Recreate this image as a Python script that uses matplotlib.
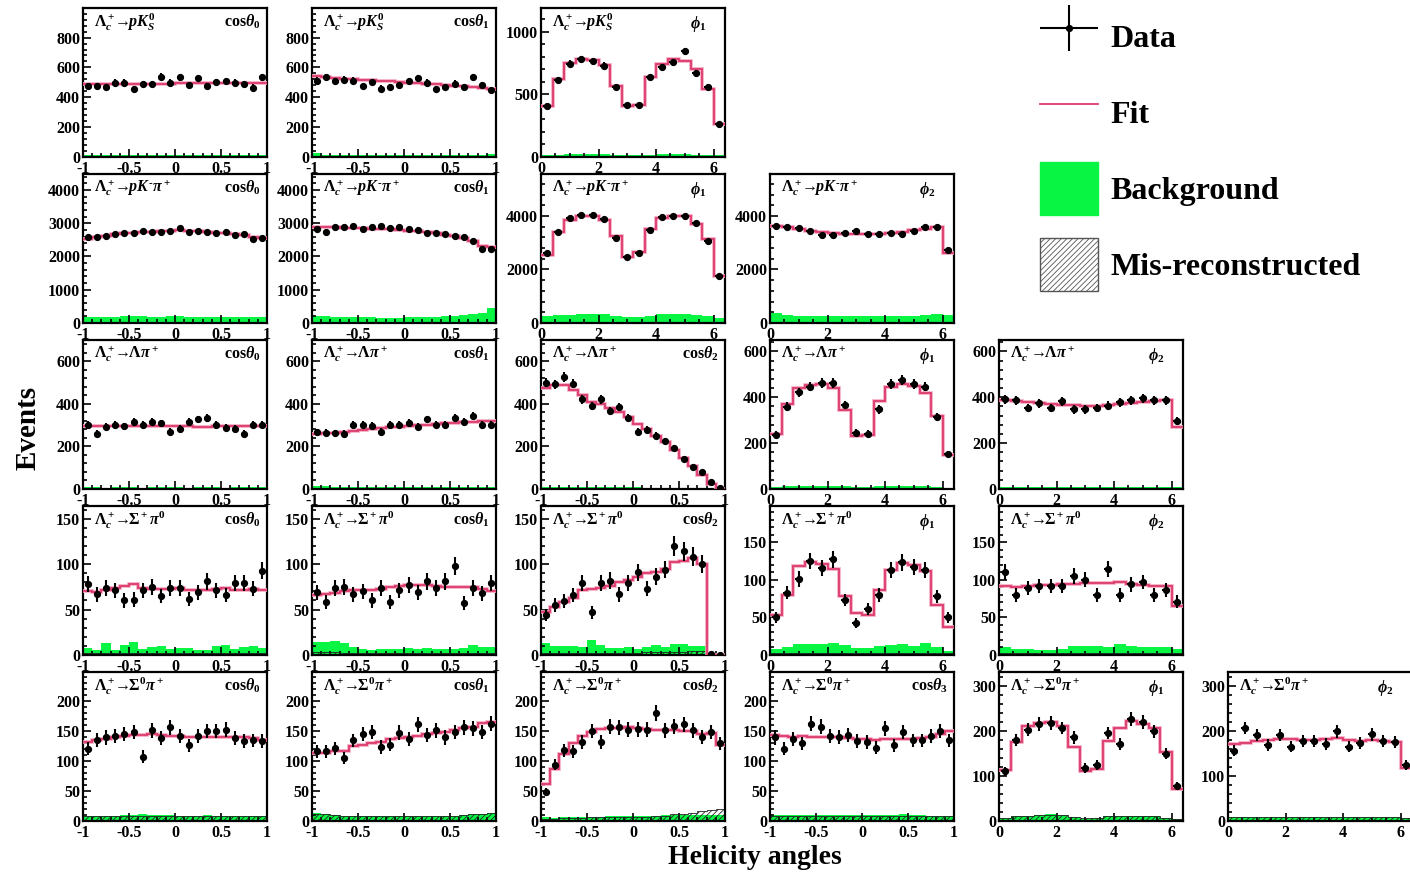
import numpy as np
import matplotlib
matplotlib.use("Agg")
import matplotlib.pyplot as plt
from matplotlib.ticker import MultipleLocator, AutoMinorLocator
from matplotlib.lines import Line2D
from matplotlib.patches import Patch
from matplotlib.container import ErrorbarContainer
from matplotlib.legend_handler import HandlerErrorbar

plt.rcParams['font.family'] = ['Liberation Serif', 'DejaVu Serif']
plt.rcParams['font.weight'] = 'bold'
plt.rcParams['mathtext.fontset'] = 'custom'
plt.rcParams['mathtext.rm'] = 'Liberation Serif:bold'
plt.rcParams['mathtext.it'] = 'Liberation Serif:bold:italic'
plt.rcParams['mathtext.bf'] = 'Liberation Serif:bold'
plt.rcParams['axes.unicode_minus'] = False
plt.rcParams['hatch.linewidth'] = 0.6

# ==== binning ====
cos_edges = np.linspace(-1, 1, 21)
phi_edges = np.linspace(0, 6.4, 17)

# ==== Lc -> p KS ====
pks_c0_data = [476, 476, 469, 499, 499, 453, 488, 488, 537, 499, 533, 483, 528, 476, 503, 506, 499, 488, 465, 533]
pks_c0_fit = [488, 488, 489, 489, 490, 490, 491, 491, 492, 492, 493, 493, 493, 494, 494, 494, 495, 495, 495, 495]
pks_c0_bkg = [12, 13, 12, 13, 13, 12, 12, 13, 12, 12, 12, 13, 12, 12, 13, 12, 12, 13, 12, 12]

pks_c1_data = [510, 533, 506, 517, 510, 476, 503, 458, 469, 483, 506, 528, 499, 453, 469, 492, 469, 533, 483, 449]
pks_c1_fit = [544, 537, 530, 525, 521, 517, 513, 509, 506, 503, 499, 494, 490, 486, 482, 478, 474, 470, 465, 458]
pks_c1_bkg = [28, 15, 13, 13, 12, 12, 12, 12, 12, 12, 12, 12, 12, 12, 12, 13, 13, 14, 15, 18]

pks_p1_data = [409, 613, 744, 782, 766, 730, 561, 414, 417, 640, 717, 755, 845, 668, 559, 264]
pks_p1_fit = [410, 620, 750, 785, 775, 735, 570, 405, 415, 640, 740, 785, 770, 700, 540, 265]
pks_p1_bkg = [14, 17, 20, 22, 22, 20, 17, 14, 14, 17, 20, 22, 20, 18, 15, 12]

# ==== Lc -> p K pi ====
pkpi_c0_data = [2588, 2578, 2608, 2668, 2698, 2698, 2759, 2729, 2729, 2769, 2859, 2739, 2759, 2749, 2698, 2729, 2648, 2688, 2528, 2558]
pkpi_c0_fit = [2530, 2580, 2620, 2680, 2700, 2720, 2740, 2750, 2760, 2780, 2810, 2770, 2760, 2740, 2720, 2700, 2680, 2660, 2590, 2570]
pkpi_c0_bkg = [190, 185, 195, 195, 200, 200, 200, 195, 195, 200, 210, 195, 190, 190, 195, 195, 190, 190, 190, 185]

pkpi_c1_data = [2834, 2734, 2894, 2894, 2915, 2814, 2894, 2915, 2844, 2874, 2814, 2784, 2693, 2693, 2673, 2603, 2573, 2462, 2231, 2211]
pkpi_c1_fit = [2900, 2890, 2880, 2870, 2860, 2850, 2840, 2830, 2820, 2800, 2780, 2760, 2730, 2700, 2660, 2620, 2560, 2470, 2320, 2280]
pkpi_c1_bkg = [220, 200, 190, 180, 175, 170, 170, 165, 165, 165, 170, 175, 180, 190, 200, 220, 240, 260, 290, 460]

pkpi_p1_data = [2625, 3412, 3912, 4037, 4025, 3875, 3187, 2462, 2625, 3462, 3962, 4000, 4000, 3725, 3062, 1775]
pkpi_p1_fit = [2560, 3400, 3840, 4000, 3990, 3840, 3270, 2450, 2650, 3500, 3910, 3990, 3990, 3690, 3150, 1740]
pkpi_p1_bkg = [250, 300, 300, 320, 340, 340, 280, 230, 230, 280, 320, 320, 320, 310, 280, 200]

pkpi_p2_data = [3625, 3600, 3537, 3437, 3275, 3275, 3375, 3437, 3337, 3312, 3350, 3337, 3437, 3587, 3587, 2712]
pkpi_p2_fit = [3620, 3580, 3510, 3450, 3390, 3350, 3320, 3310, 3310, 3330, 3380, 3420, 3460, 3530, 3600, 2600]
pkpi_p2_bkg = [380, 300, 280, 270, 260, 250, 250, 250, 250, 260, 260, 270, 280, 300, 320, 300]

# ==== Lc -> Lambda pi ====
lpi_c0_data = [300, 259, 292, 300, 295, 316, 300, 316, 308, 269, 283, 316, 327, 335, 300, 288, 283, 259, 303, 303]
lpi_c0_fit = [297, 297, 297, 298, 298, 298, 298, 298, 298, 297, 296, 295, 293, 293, 294, 295, 296, 297, 297, 297]
lpi_c0_bkg = [8, 8, 7, 8, 8, 8, 7, 8, 8, 8, 8, 7, 8, 8, 8, 7, 8, 8, 8, 8]

lpi_c1_data = [267, 264, 261, 259, 303, 303, 298, 269, 300, 303, 311, 292, 327, 303, 303, 335, 316, 343, 303, 303]
lpi_c1_fit = [260, 262, 264, 267, 273, 278, 282, 286, 290, 293, 296, 299, 302, 305, 308, 311, 314, 316, 318, 320]
lpi_c1_bkg = [14, 12, 10, 9, 8, 8, 8, 8, 8, 8, 8, 8, 8, 8, 8, 8, 8, 8, 8, 8]

lpi_c2_data = [500, 492, 527, 495, 421, 389, 421, 368, 386, 333, 270, 278, 251, 225, 194, 143, 103, 79, 35, 3]
lpi_c2_fit = [475, 487, 487, 465, 440, 410, 400, 380, 360, 340, 305, 280, 250, 220, 185, 145, 110, 65, 25, 2]
lpi_c2_bkg = [10, 10, 10, 9, 9, 9, 9, 8, 8, 8, 8, 7, 7, 6, 6, 5, 4, 3, 2, 1]

lpi_p1_data = [237, 359, 422, 447, 464, 461, 366, 246, 242, 348, 457, 476, 457, 447, 315, 154]
lpi_p1_fit = [240, 370, 440, 455, 460, 440, 345, 230, 235, 385, 445, 460, 450, 420, 320, 150]
lpi_p1_bkg = [9, 11, 13, 14, 15, 14, 11, 8, 8, 11, 13, 14, 13, 12, 10, 6]

lpi_p2_data = [392, 388, 354, 373, 354, 383, 348, 348, 354, 363, 378, 388, 395, 388, 388, 296]
lpi_p2_fit = [390, 385, 381, 377, 372, 368, 365, 363, 363, 366, 370, 375, 380, 385, 388, 270]
lpi_p2_bkg = [9, 9, 9, 8, 8, 8, 8, 8, 8, 8, 8, 8, 8, 9, 9, 7]

# ==== Lc -> Sigma+ pi0 ====
spi0_c0_data = [78, 67, 74, 71, 60, 61, 71, 75, 65, 74, 74, 62, 69, 81, 71, 66, 79, 79, 73, 93]
spi0_c0_fit = [70, 69, 71, 74, 76, 78, 74, 73, 73, 73, 74, 72, 71, 72, 73, 74, 72, 72, 73, 71]
spi0_c0_bkg = [8, 6, 13, 6, 11, 14, 7, 9, 10, 7, 8, 8, 5, 6, 10, 11, 7, 9, 10, 8]
spi0_c0_mis = [2, 2, 2, 2, 2, 2, 2, 2, 2, 2, 2, 2, 2, 2, 2, 2, 2, 2, 2, 2]

spi0_c1_data = [69, 58, 74, 75, 67, 70, 60, 74, 58, 71, 77, 69, 81, 74, 81, 98, 57, 74, 68, 79]
spi0_c1_fit = [66, 67, 68, 70, 71, 72, 72, 73, 75, 76, 77, 77, 77, 76, 75, 75, 75, 75, 73, 70]
spi0_c1_bkg = [14, 14, 15, 13, 9, 7, 5, 7, 7, 7, 8, 7, 8, 7, 7, 7, 8, 11, 9, 9]
spi0_c1_mis = [3, 3, 3, 2, 2, 2, 2, 2, 2, 2, 2, 2, 2, 2, 2, 2, 2, 2, 2, 2]

spi0_c2_data = [44, 55, 59, 66, 79, 47, 79, 82, 67, 79, 91, 73, 86, 94, 120, 114, 108, 100, 1, 0]
spi0_c2_fit = [47, 53, 58, 63, 72, 73, 74, 76, 80, 83, 86, 90, 91, 95, 102, 104, 107, 100, 0, 0]
spi0_c2_bkg = [13, 10, 10, 10, 9, 16, 11, 8, 8, 9, 7, 9, 11, 9, 12, 12, 10, 10, 0, 0]
spi0_c2_mis = [2, 2, 2, 2, 2, 2, 2, 2, 2, 2, 2, 3, 3, 3, 3, 3, 4, 4, 0, 0]

spi0_p1_data = [50, 83, 101, 125, 116, 127, 73, 43, 61, 80, 113, 123, 117, 113, 78, 50]
spi0_p1_fit = [53, 80, 118, 123, 121, 114, 78, 56, 53, 87, 113, 122, 119, 111, 67, 37]
spi0_p1_bkg = [8, 11, 14, 15, 15, 16, 13, 9, 9, 12, 13, 15, 12, 16, 10, 5]
spi0_p1_mis = [2, 2, 3, 3, 3, 3, 3, 2, 2, 3, 3, 3, 3, 3, 2, 2]

spi0_p2_data = [110, 80, 89, 92, 92, 92, 105, 100, 80, 114, 80, 94, 97, 80, 86, 71]
spi0_p2_fit = [92, 91, 92, 93, 93, 94, 95, 96, 96, 96, 97, 95, 93, 92, 92, 65]
spi0_p2_bkg = [10, 8, 8, 7, 7, 8, 12, 12, 12, 11, 15, 12, 11, 11, 11, 8]
spi0_p2_mis = [3, 2, 2, 2, 2, 2, 3, 3, 3, 3, 3, 3, 3, 2, 2, 2]

# ==== Lc -> Sigma0 pi+ ====
s0pi_c0_data = [120, 135, 139, 141, 145, 148, 107, 151, 138, 156, 141, 126, 141, 150, 150, 152, 138, 133, 134, 133]
s0pi_c0_fit = [132, 135, 137, 139, 141, 143, 143, 144, 143, 142, 141, 140, 139, 139, 140, 140, 140, 139, 138, 135]
s0pi_c0_bkg = [9, 8, 9, 9, 10, 10, 11, 10, 10, 10, 9, 9, 9, 10, 9, 9, 9, 9, 9, 9]
s0pi_c0_mis = [9, 9, 9, 9, 9, 9, 9, 9, 9, 9, 9, 9, 9, 9, 9, 9, 9, 9, 9, 9]

s0pi_c1_data = [116, 116, 121, 105, 134, 145, 148, 123, 127, 147, 137, 161, 143, 151, 139, 148, 156, 154, 148, 162]
s0pi_c1_fit = [113, 114, 116, 117, 125, 127, 129, 131, 136, 138, 140, 142, 144, 146, 148, 151, 154, 157, 163, 164]
s0pi_c1_bkg = [13, 11, 10, 9, 8, 8, 8, 8, 8, 8, 8, 8, 8, 8, 9, 9, 10, 11, 12, 13]
s0pi_c1_mis = [12, 11, 10, 9, 9, 8, 8, 8, 8, 8, 8, 8, 8, 8, 9, 9, 10, 11, 12, 13]

s0pi_c2_data = [48, 94, 118, 116, 131, 150, 132, 157, 156, 152, 153, 152, 180, 151, 158, 161, 151, 140, 148, 129]
s0pi_c2_fit = [62, 87, 111, 129, 142, 148, 153, 154, 155, 156, 155, 153, 152, 152, 152, 150, 149, 145, 147, 127]
s0pi_c2_bkg = [6, 5, 7, 7, 7, 7, 7, 8, 9, 9, 9, 8, 9, 10, 10, 10, 10, 10, 10, 10]
s0pi_c2_mis = [4, 4, 5, 5, 5, 6, 6, 6, 6, 6, 7, 7, 8, 9, 11, 12, 14, 16, 18, 20]

s0pi_c3_data = [139, 120, 136, 129, 162, 157, 141, 140, 143, 133, 132, 122, 154, 126, 148, 134, 134, 141, 150, 134]
s0pi_c3_fit = [143, 142, 139, 142, 140, 140, 139, 139, 138, 137, 136, 135, 137, 137, 136, 136, 138, 140, 144, 149]
s0pi_c3_bkg = [10, 10, 10, 10, 10, 10, 10, 10, 10, 10, 10, 10, 10, 10, 11, 10, 10, 9, 9, 9]
s0pi_c3_mis = [9, 9, 9, 9, 9, 9, 9, 9, 9, 9, 9, 9, 9, 9, 9, 9, 9, 9, 9, 9]

s0pi_p1_data = [110, 180, 202, 215, 217, 206, 185, 118, 124, 195, 171, 226, 219, 199, 149, 77]
s0pi_p1_fit = [112, 176, 210, 216, 220, 210, 165, 110, 116, 178, 207, 222, 215, 205, 152, 70]
s0pi_p1_bkg = [7, 10, 12, 14, 16, 14, 8, 5, 6, 10, 12, 12, 12, 11, 7, 4]
s0pi_p1_mis = [7, 10, 11, 13, 14, 13, 8, 6, 6, 10, 11, 11, 11, 10, 7, 4]

s0pi_p2_data = [156, 206, 191, 168, 191, 165, 178, 178, 171, 199, 165, 173, 192, 178, 176, 125]
s0pi_p2_fit = [170, 172, 178, 180, 181, 182, 180, 180, 182, 183, 180, 178, 180, 178, 175, 118]
s0pi_p2_bkg = [9, 9, 9, 9, 9, 9, 9, 9, 9, 9, 9, 9, 9, 9, 9, 7]
s0pi_p2_mis = [9, 9, 9, 9, 9, 9, 9, 9, 9, 9, 9, 9, 9, 9, 9, 7]

lab_pks = r'$\Lambda_c^+\!\!\rightarrow\!\! pK_S^0$'
lab_pkpi = r'$\Lambda_c^+\!\!\rightarrow\!\! pK^{\text{-}}\pi^+$'
lab_lpi = r'$\Lambda_c^+\!\!\rightarrow\!\!\Lambda\pi^+$'
lab_spi0 = r'$\Lambda_c^+\!\!\rightarrow\!\!\Sigma^+\pi^0$'
lab_s0pi = r'$\Lambda_c^+\!\!\rightarrow\!\!\Sigma^0\pi^+$'

# row, col, angle, channel, variable, ymax, ystep, data, fit, bkg, mis
panels = [
    (0, 0, 'cos', lab_pks, r'cos$\theta_0$', 998, 200, pks_c0_data, pks_c0_fit, pks_c0_bkg, None),
    (0, 1, 'cos', lab_pks, r'cos$\theta_1$', 998, 200, pks_c1_data, pks_c1_fit, pks_c1_bkg, None),
    (0, 2, 'phi', lab_pks, r'$\phi_1$', 1190, 500, pks_p1_data, pks_p1_fit, pks_p1_bkg, None),
    (1, 0, 'cos', lab_pkpi, r'cos$\theta_0$', 4480, 1000, pkpi_c0_data, pkpi_c0_fit, pkpi_c0_bkg, None),
    (1, 1, 'cos', lab_pkpi, r'cos$\theta_1$', 4480, 1000, pkpi_c1_data, pkpi_c1_fit, pkpi_c1_bkg, None),
    (1, 2, 'phi', lab_pkpi, r'$\phi_1$', 5570, 2000, pkpi_p1_data, pkpi_p1_fit, pkpi_p1_bkg, None),
    (1, 3, 'phi', lab_pkpi, r'$\phi_2$', 5570, 2000, pkpi_p2_data, pkpi_p2_fit, pkpi_p2_bkg, None),
    (2, 0, 'cos', lab_lpi, r'cos$\theta_0$', 700, 200, lpi_c0_data, lpi_c0_fit, lpi_c0_bkg, None),
    (2, 1, 'cos', lab_lpi, r'cos$\theta_1$', 700, 200, lpi_c1_data, lpi_c1_fit, lpi_c1_bkg, None),
    (2, 2, 'cos', lab_lpi, r'cos$\theta_2$', 700, 200, lpi_c2_data, lpi_c2_fit, lpi_c2_bkg, None),
    (2, 3, 'phi', lab_lpi, r'$\phi_1$', 650, 200, lpi_p1_data, lpi_p1_fit, lpi_p1_bkg, None),
    (2, 4, 'phi', lab_lpi, r'$\phi_2$', 650, 200, lpi_p2_data, lpi_p2_fit, lpi_p2_bkg, None),
    (3, 0, 'cos', lab_spi0, r'cos$\theta_0$', 164, 50, spi0_c0_data, spi0_c0_fit, spi0_c0_bkg, spi0_c0_mis),
    (3, 1, 'cos', lab_spi0, r'cos$\theta_1$', 164, 50, spi0_c1_data, spi0_c1_fit, spi0_c1_bkg, spi0_c1_mis),
    (3, 2, 'cos', lab_spi0, r'cos$\theta_2$', 164, 50, spi0_c2_data, spi0_c2_fit, spi0_c2_bkg, spi0_c2_mis),
    (3, 3, 'phi', lab_spi0, r'$\phi_1$', 198, 50, spi0_p1_data, spi0_p1_fit, spi0_p1_bkg, spi0_p1_mis),
    (3, 4, 'phi', lab_spi0, r'$\phi_2$', 198, 50, spi0_p2_data, spi0_p2_fit, spi0_p2_bkg, spi0_p2_mis),
    (4, 0, 'cos', lab_s0pi, r'cos$\theta_0$', 248, 50, s0pi_c0_data, s0pi_c0_fit, s0pi_c0_bkg, s0pi_c0_mis),
    (4, 1, 'cos', lab_s0pi, r'cos$\theta_1$', 248, 50, s0pi_c1_data, s0pi_c1_fit, s0pi_c1_bkg, s0pi_c1_mis),
    (4, 2, 'cos', lab_s0pi, r'cos$\theta_2$', 248, 50, s0pi_c2_data, s0pi_c2_fit, s0pi_c2_bkg, s0pi_c2_mis),
    (4, 3, 'cos', lab_s0pi, r'cos$\theta_3$', 248, 50, s0pi_c3_data, s0pi_c3_fit, s0pi_c3_bkg, s0pi_c3_mis),
    (4, 4, 'phi', lab_s0pi, r'$\phi_1$', 330, 100, s0pi_p1_data, s0pi_p1_fit, s0pi_p1_bkg, s0pi_p1_mis),
    (4, 5, 'phi', lab_s0pi, r'$\phi_2$', 330, 100, s0pi_p2_data, s0pi_p2_fit, s0pi_p2_bkg, s0pi_p2_mis),
]

fit_color = '#dc3a6c'
halo_color = '#f4a6bf'
bkg_color = '#08f544'

W, H = 1410, 873
fig = plt.figure(figsize=(W / 100, H / 100), dpi=100)

data_handle = None
for row, col, kind, chan, var, ymax, ystep, data, fit, bkg, mis in panels:
    left = 83 + col * 229
    bottom = 157 + row * 166
    ax = fig.add_axes([left / W, 1 - bottom / H, 184 / W, 149 / H])
    edges = cos_edges if kind == 'cos' else phi_edges
    centers = 0.5 * (edges[:-1] + edges[1:])
    bw = edges[1] - edges[0]
    data = np.array(data, dtype=float)

    ax.stairs(bkg, edges, fill=True, color=bkg_color, lw=0, zorder=1)
    if mis is not None:
        ax.stairs(mis, edges, fill=True, facecolor='none', edgecolor='#222222',
                  hatch='//////', lw=0.6, zorder=2)
    ax.stairs(fit, edges, baseline=None, color=halo_color, lw=2.6, zorder=3)
    ax.stairs(fit, edges, baseline=None, color=fit_color, lw=1.3, zorder=4)
    eb = ax.errorbar(centers, data, xerr=0.33 * bw, yerr=np.sqrt(data), fmt='o',
                     ms=4.2, color='black', elinewidth=1.5, capsize=0, zorder=5)
    if data_handle is None:
        data_handle = eb

    ax.set_ylim(0, ymax)
    if kind == 'cos':
        ax.set_xlim(-1, 1)
        ax.set_xticks([-1, -0.5, 0, 0.5, 1])
        ax.set_xticklabels(['-1', '-0.5', '0', '0.5', '1'])
        ax.xaxis.set_minor_locator(MultipleLocator(0.1))
        ax.text(0.965, 0.905, var, transform=ax.transAxes, ha='right', va='center', fontsize=11.5)
    else:
        ax.set_xlim(0, 6.4)
        ax.set_xticks([0, 2, 4, 6])
        ax.xaxis.set_minor_locator(MultipleLocator(0.5))
        ax.text(0.9, 0.895, var, transform=ax.transAxes, ha='right', va='center', fontsize=11.5)
    ax.yaxis.set_major_locator(MultipleLocator(ystep))
    ax.yaxis.set_minor_locator(AutoMinorLocator(5))
    ax.text(0.06, 0.905, chan, transform=ax.transAxes, ha='left', va='center', fontsize=11.5)

    ax.tick_params(which='both', direction='in', top=False, right=False,
                   labelsize=11.5, width=1.2)
    ax.tick_params(axis='x', pad=3)
    ax.tick_params(axis='y', pad=2)
    ax.tick_params(which='major', length=6)
    ax.tick_params(which='minor', length=3)
    for sp in ax.spines.values():
        sp.set_linewidth(1.6)

fig.text(28 / W, 1 - 428 / H, 'Events', rotation=90, ha='center', va='center', fontsize=21)
fig.text(755 / W, 1 - 857 / H, 'Helicity angles', ha='center', va='center', fontsize=20)

handles = [
    data_handle,
    Line2D([], [], color=fit_color, lw=1.3),
    Patch(facecolor=bkg_color, edgecolor=bkg_color),
    Patch(facecolor='white', edgecolor='#555555', hatch='//////', lw=1),
]
labels = ['Data', 'Fit', 'Background', 'Mis-reconstructed']
fig.legend(handles, labels, loc='upper left', bbox_to_anchor=(1040 / W, 1 - 10 / H),
           frameon=False, fontsize=23, borderpad=0, borderaxespad=0,
           handlelength=1.82, handleheight=2.18, handletextpad=0.38, labelspacing=0.72,
           handler_map={ErrorbarContainer: HandlerErrorbar(xerr_size=0.91, yerr_size=0.72)})

fig.savefig('out.png', dpi=100)
